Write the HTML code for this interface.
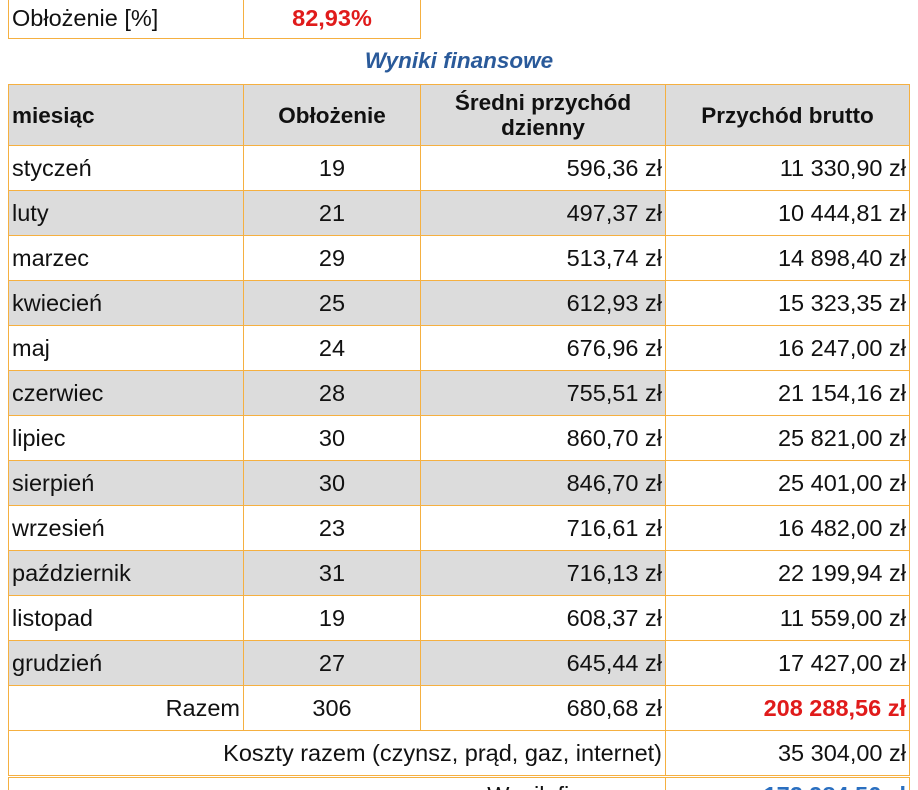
<!DOCTYPE html>
<html><head><meta charset="utf-8"><style>
html,body{margin:0;width:918px;height:790px;overflow:hidden}
body{background:#fff;font-family:"Liberation Sans",Arial,sans-serif;position:relative}
.c{position:absolute;box-sizing:border-box;border:1px solid #f5b041;font-size:23.5px;color:#111;display:flex;align-items:center;white-space:nowrap;padding:0 3px}
.l{justify-content:flex-start}.m{justify-content:center}.r{justify-content:flex-end}
.g{background:#dcdcdc}
.h{font-weight:bold;text-align:center;line-height:25px;font-size:22.5px}
</style></head><body>
<div class="c l" style="left:8px;top:-2px;width:236px;height:41px">Obłożenie [%]</div>
<div class="c m" style="left:243px;top:-2px;width:178px;height:41px;color:#e01b1b;font-weight:bold">82,93%</div>
<div style="position:absolute;left:0;width:918px;top:48px;text-align:center;font-size:22.5px;font-weight:bold;font-style:italic;color:#2a5a9a">Wyniki finansowe</div>
<div class="c l g h" style="left:8px;top:84px;width:236px;height:62px">miesiąc</div>
<div class="c m g h" style="left:243px;top:84px;width:178px;height:62px">Obłożenie</div>
<div class="c m g h" style="left:420px;top:84px;width:246px;height:62px">Średni przychód<br>dzienny</div>
<div class="c m g h" style="left:665px;top:84px;width:245px;height:62px">Przychód brutto</div>
<div id="rows"></div>
<div class="c r" style="left:8px;top:685px;width:236px;height:46px">Razem</div>
<div class="c m" style="left:243px;top:685px;width:178px;height:46px">306</div>
<div class="c r" style="left:420px;top:685px;width:246px;height:46px">680,68 zł</div>
<div class="c r" style="left:665px;top:685px;width:245px;height:46px;color:#e01b1b;font-weight:bold">208 288,56 zł</div>
<div class="c r" style="left:8px;top:730px;width:658px;height:46px">Koszty razem (czynsz, prąd, gaz, internet)</div>
<div class="c r" style="left:665px;top:730px;width:245px;height:46px">35 304,00 zł</div>
<div class="c r" style="left:8px;top:777px;width:658px;height:46px;align-items:flex-start;padding-top:4px">Wynik finansowy</div>
<div class="c r" style="left:665px;top:777px;width:245px;height:46px;align-items:flex-start;padding-top:4px;color:#2a6fc0;font-weight:bold">172 984,56 zł</div>
<script>
const months=["styczeń","luty","marzec","kwiecień","maj","czerwiec","lipiec","sierpień","wrzesień","październik","listopad","grudzień"];
const occupancy=["19","21","29","25","24","28","30","30","23","31","19","27"];
const avgDaily=["596,36 zł","497,37 zł","513,74 zł","612,93 zł","676,96 zł","755,51 zł","860,70 zł","846,70 zł","716,61 zł","716,13 zł","608,37 zł","645,44 zł"];
const gross=["11 330,90 zł","10 444,81 zł","14 898,40 zł","15 323,35 zł","16 247,00 zł","21 154,16 zł","25 821,00 zł","25 401,00 zł","16 482,00 zł","22 199,94 zł","11 559,00 zł","17 427,00 zł"];
const root=document.getElementById('rows');
const cols=[[8,236,'l'],[243,178,'m'],[420,246,'r'],[665,245,'r']];
months.forEach((m,i)=>{
  const vals=[m,occupancy[i],avgDaily[i],gross[i]];
  vals.forEach((v,j)=>{
    const d=document.createElement('div');
    d.className='c '+cols[j][2]+((i%2==1&&j<3)?' g':'');
    d.style.left=cols[j][0]+'px';d.style.top=(145+i*45)+'px';
    d.style.width=cols[j][1]+'px';d.style.height='46px';
    d.textContent=v;
    
    
    root.appendChild(d);
  });
});
</script>
</body></html>
